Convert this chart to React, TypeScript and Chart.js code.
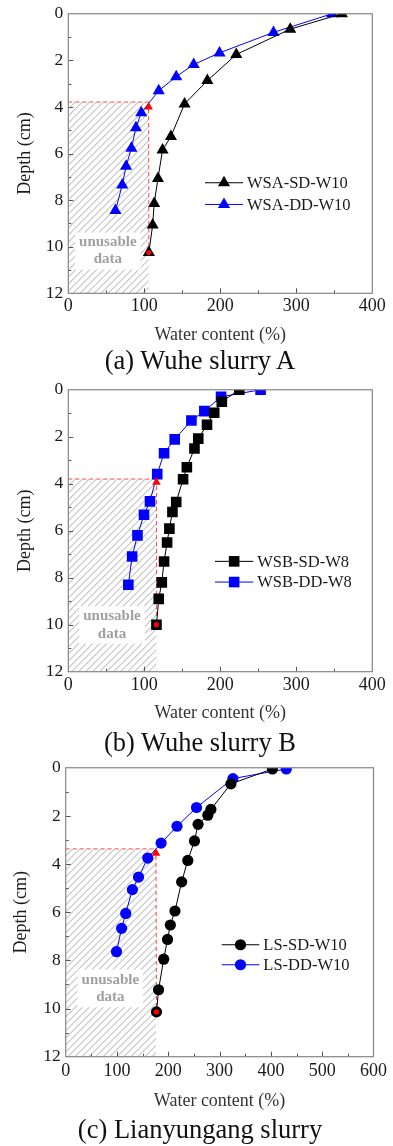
import React, { useEffect, useRef } from "react";
import { Chart, registerables } from "chart.js";

Chart.register(...registerables);

const FONT = "'Liberation Serif', 'Times New Roman', serif";

// ---------- (a) Wuhe slurry A ----------
const A_SD_WATER = [360, 292, 221, 183, 153, 135, 124, 118, 113, 111, 106];
const A_SD_DEPTH = [0, 0.66, 1.75, 2.87, 3.87, 5.27, 5.85, 7.07, 8.15, 9.07, 10.25];
const A_DD_WATER = [347, 270, 199, 165, 142, 119, 96, 89, 83, 76, 71, 62];
const A_DD_DEPTH = [0, 0.8, 1.68, 2.18, 2.7, 3.3, 4.25, 4.89, 5.77, 6.55, 7.35, 8.45];
const A_CUT = [105.7, 3.79]; // water, depth of the usable-data limit
const A_MARK = [105.7, 4.0];
const A_LABELS = ["WSA-SD-W10", "WSA-DD-W10"];
const A_X_TICKS = [0, 100, 200, 300, 400];

// ---------- (b) Wuhe slurry B ----------
const B_SD_WATER = [225, 202, 192, 182.5, 171, 166, 156, 151, 142, 137, 133, 130, 126, 123, 119, 116];
const B_SD_DEPTH = [0, 0.51, 0.98, 1.49, 2.08, 2.5, 3.3, 3.81, 4.78, 5.2, 5.91, 6.5, 7.31, 8.2, 8.9, 10.0];
const B_DD_WATER = [253, 201, 179, 162, 140, 126, 117, 107.5, 99.6, 91, 84, 79];
const B_DD_DEPTH = [0, 0.3, 0.91, 1.31, 2.11, 2.7, 3.59, 4.75, 5.32, 6.2, 7.1, 8.3];
const B_CUT = [116, 3.8];
const B_MARK = [116, 3.94];
const B_LABELS = ["WSB-SD-W8", "WSB-DD-W8"];
const B_X_TICKS = [0, 100, 200, 300, 400];

// ---------- (c) Lianyungang slurry ----------
const C_SD_WATER = [403, 322, 283, 277, 258, 251, 238, 226, 213, 204, 198.5, 191, 181, 177];
const C_SD_DEPTH = [0.05, 0.67, 1.73, 1.97, 2.35, 3.04, 3.85, 4.74, 5.95, 6.53, 7.13, 7.95, 9.22, 10.14];
const C_DD_WATER = [430, 326, 255, 217, 186, 160, 142, 130, 117, 109, 99];
const C_DD_DEPTH = [0.05, 0.45, 1.65, 2.43, 3.13, 3.75, 4.54, 5.06, 6.05, 6.67, 7.64];
const C_CUT = [176, 3.37];
const C_MARK = [176, 3.55];
const C_LABELS = ["LS-SD-W10", "LS-DD-W10"];
const C_X_TICKS = [0, 100, 200, 300, 400, 500, 600];

const DEPTH_TICKS = [0, 2, 4, 6, 8, 10, 12];
const X_TITLE = "Water content (%)";
const Y_TITLE = "Depth (cm)";
const TEXT_LINES = ["unusable", "data"];

type Panel = {
  caption: string;
  sdW: number[]; sdD: number[]; ddW: number[]; ddD: number[];
  cut: number[]; mark: number[]; labels: string[]; xTicks: number[];
  style: "triangle" | "rect" | "circle"; radius: number;
  // layout
  top: number; height: number; padTop: number; padRight: number;
  yAxisW: number; xAxisH: number; xTickPad: number; xTitlePad: number; yTitlePad: number;
  captionY: number;
  textPos: number[]; // water, depth1, depth2
  legend: number[]; // x0, x1, y1, y2 relative to chart area
};

const PANELS: Panel[] = [
  {
    caption: "(a) Wuhe slurry A",
    sdW: A_SD_WATER, sdD: A_SD_DEPTH, ddW: A_DD_WATER, ddD: A_DD_DEPTH,
    cut: A_CUT, mark: A_MARK, labels: A_LABELS, xTicks: A_X_TICKS,
    style: "triangle", radius: 7,
    top: 0, height: 350, padTop: 9.3, padRight: 20.7,
    yAxisW: 68.3, xAxisH: 56.7, xTickPad: 3.7, xTitlePad: 4.2, yTitlePad: 14.2,
    captionY: 360,
    textPos: [52, 9.82, 10.55],
    legend: [136.7, 174.7, 169, 190.7],
  },
  {
    caption: "(b) Wuhe slurry B",
    sdW: B_SD_WATER, sdD: B_SD_DEPTH, ddW: B_DD_WATER, ddD: B_DD_DEPTH,
    cut: B_CUT, mark: B_MARK, labels: B_LABELS, xTicks: B_X_TICKS,
    style: "rect", radius: 7.5,
    top: 376, height: 350, padTop: 10.7, padRight: 20.7,
    yAxisW: 68.3, xAxisH: 54.3, xTickPad: 4.3, xTitlePad: 2.2, yTitlePad: 14.2,
    captionY: 741.7,
    textPos: [57.5, 9.64, 10.38],
    legend: [146.7, 185, 171.6, 192.3],
  },
  {
    caption: "(c) Lianyungang slurry",
    sdW: C_SD_WATER, sdD: C_SD_DEPTH, ddW: C_DD_WATER, ddD: C_DD_DEPTH,
    cut: C_CUT, mark: C_MARK, labels: C_LABELS, xTicks: C_X_TICKS,
    style: "circle", radius: 5.6,
    top: 754, height: 360, padTop: 11.7, padRight: 17,
    yAxisW: 65.7, xAxisH: 57.3, xTickPad: 6, xTitlePad: 1.5, yTitlePad: 10.9,
    captionY: 1129,
    textPos: [87, 8.8, 9.53],
    legend: [156, 193.6, 177, 197],
  },
];

const pts = (xs: number[], ys: number[]) => xs.map((x, i) => ({ x, y: ys[i] }));

function drawMarker(ctx: CanvasRenderingContext2D, style: string, x: number, y: number, r: number, color: string) {
  ctx.fillStyle = color;
  ctx.beginPath();
  if (style === "triangle") {
    let a = 0;
    ctx.moveTo(x + Math.sin(a) * r, y - Math.cos(a) * r);
    a += (2 * Math.PI) / 3;
    ctx.lineTo(x + Math.sin(a) * r, y - Math.cos(a) * r);
    a += (2 * Math.PI) / 3;
    ctx.lineTo(x + Math.sin(a) * r, y - Math.cos(a) * r);
    ctx.closePath();
  } else if (style === "rect") {
    const s = Math.SQRT1_2 * r;
    ctx.rect(x - s, y - s, 2 * s, 2 * s);
  } else {
    ctx.arc(x, y, r, 0, Math.PI * 2);
  }
  ctx.fill();
}

function PanelChart({ p }: { p: Panel }) {
  const ref = useRef<HTMLCanvasElement | null>(null);
  useEffect(() => {
    if (!ref.current) return;
    const xMax = p.xTicks[p.xTicks.length - 1];
    const xStep = p.xTicks[1] - p.xTicks[0];
    const yMax = DEPTH_TICKS[DEPTH_TICKS.length - 1];
    const lastSD = { x: p.sdW[p.sdW.length - 1], y: p.sdD[p.sdD.length - 1] };

    const decor = {
      id: "decor",
      beforeDatasetsDraw(chart: any) {
        const { ctx, scales } = chart;
        const x = scales.x, y = scales.y;
        const xl = x.getPixelForValue(0), xr = x.getPixelForValue(p.cut[0]);
        const yt = y.getPixelForValue(p.cut[1]), yb = y.getPixelForValue(yMax);
        ctx.save();
        ctx.beginPath();
        ctx.rect(xl, yt, xr - xl, yb - yt);
        ctx.clip();
        ctx.strokeStyle = "#a0a0a0";
        ctx.lineWidth = 0.9;
        const h = yb - yt;
        ctx.beginPath();
        for (let s = xl - h; s < xr + 2; s += 7) {
          ctx.moveTo(s, yb);
          ctx.lineTo(s + h, yt);
        }
        ctx.stroke();
        ctx.restore();

        ctx.save();
        ctx.font = `bold 15px ${FONT}`;
        const tx = x.getPixelForValue(p.textPos[0]);
        const ty1 = y.getPixelForValue(p.textPos[1]);
        const ty2 = y.getPixelForValue(p.textPos[2]);
        const w = ctx.measureText(TEXT_LINES[0]).width;
        ctx.fillStyle = "#ffffff";
        ctx.fillRect(tx - w / 2 - 4, ty1 - 10, w + 8, ty2 - ty1 + 20);
        ctx.fillStyle = "#a0a0a0";
        ctx.textAlign = "center";
        ctx.textBaseline = "middle";
        ctx.fillText(TEXT_LINES[0], tx, ty1);
        ctx.fillText(TEXT_LINES[1], tx, ty2);
        ctx.restore();
      },
      afterDraw(chart: any) {
        const { ctx, chartArea: ca, scales } = chart;
        const x = scales.x, y = scales.y;
        ctx.save();
        // inward ticks
        ctx.strokeStyle = "#555";
        ctx.lineWidth = 1;
        ctx.beginPath();
        for (let v = xStep / 2; v < xMax; v += xStep / 2) {
          const px = Math.round(x.getPixelForValue(v)) + 0.5;
          const len = Math.abs(v % xStep) < 1e-6 ? 5 : 3;
          ctx.moveTo(px, ca.bottom);
          ctx.lineTo(px, ca.bottom - len);
        }
        for (let d = 1; d < yMax; d += 1) {
          const py = Math.round(y.getPixelForValue(d)) + 0.5;
          const len = d % 2 === 0 ? 5 : 3;
          ctx.moveTo(ca.left, py);
          ctx.lineTo(ca.left + len, py);
        }
        ctx.stroke();
        // frame
        ctx.strokeStyle = "#858585";
        ctx.lineWidth = 1.2;
        ctx.strokeRect(ca.left, ca.top, ca.right - ca.left, ca.bottom - ca.top);
        // legend
        const [lx0, lx1, ly1, ly2] = p.legend;
        const cols = ["#000000", "#0000ff"];
        [ly1, ly2].forEach((ly, i) => {
          const yy = ca.top + ly;
          ctx.strokeStyle = cols[i];
          ctx.lineWidth = 1;
          ctx.beginPath();
          ctx.moveTo(ca.left + lx0, yy);
          ctx.lineTo(ca.left + lx1, yy);
          ctx.stroke();
          drawMarker(ctx, p.style, ca.left + (lx0 + lx1) / 2, yy, p.radius, cols[i]);
          ctx.fillStyle = "#1a1a1a";
          ctx.font = `16.5px ${FONT}`;
          ctx.textAlign = "left";
          ctx.textBaseline = "middle";
          ctx.fillText(p.labels[i], ca.left + lx1 + 4, yy + 1);
        });
        ctx.restore();
      },
    };

    const chart = new Chart(ref.current, {
      type: "scatter",
      data: {
        datasets: [
          {
            data: [lastSD],
            pointStyle: "circle",
            pointRadius: 2.6,
            pointBackgroundColor: "#ff0000",
            pointBorderWidth: 0,
            showLine: false,
          },
          {
            data: [{ x: p.mark[0], y: p.mark[1] }],
            pointStyle: "triangle",
            pointRadius: 5,
            pointBackgroundColor: "#ff0000",
            pointBorderColor: "#ff0000",
            pointBorderWidth: 0,
            showLine: false,
          },
          {
            label: p.labels[0],
            data: pts(p.sdW, p.sdD),
            showLine: true,
            borderColor: "#000000",
            borderWidth: 1,
            pointStyle: p.style,
            pointRadius: p.radius,
            pointBackgroundColor: "#000000",
            pointBorderColor: "#000000",
            pointBorderWidth: 0,
          },
          {
            label: p.labels[1],
            data: pts(p.ddW, p.ddD),
            showLine: true,
            borderColor: "#0000ff",
            borderWidth: 1,
            pointStyle: p.style,
            pointRadius: p.radius,
            pointBackgroundColor: "#0000ff",
            pointBorderColor: "#0000ff",
            pointBorderWidth: 0,
          },
          {
            data: [{ x: 0, y: p.cut[1] }, { x: p.cut[0], y: p.cut[1] }],
            showLine: true,
            borderColor: "#ff4444",
            borderWidth: 1,
            borderDash: [4, 3],
            pointRadius: 0,
          },
          {
            data: [{ x: p.cut[0], y: p.cut[1] }, lastSD],
            showLine: true,
            borderColor: "#ff4444",
            borderWidth: 1,
            borderDash: [4, 3],
            pointRadius: 0,
          },
        ],
      },
      options: {
        animation: false,
        responsive: false,
        devicePixelRatio: 1,
        events: [],
        layout: { padding: { top: p.padTop, right: p.padRight, left: 0, bottom: 0 } },
        plugins: { legend: { display: false }, tooltip: { enabled: false } },
        scales: {
          x: {
            type: "linear",
            min: 0,
            max: xMax,
            grid: { display: false, drawTicks: false },
            border: { display: false },
            ticks: {
              stepSize: xStep,
              padding: p.xTickPad,
              color: "#1a1a1a",
              font: { family: FONT, size: 18, lineHeight: 1 },
              maxRotation: 0,
            },
            title: {
              display: true,
              text: X_TITLE,
              color: "#333333",
              font: { family: FONT, size: 18, lineHeight: 1.2 },
              padding: { top: 0, bottom: p.xTitlePad },
            },
            afterFit: (s: any) => { s.height = p.xAxisH; },
          },
          y: {
            type: "linear",
            min: 0,
            max: yMax,
            reverse: true,
            grid: { display: false, drawTicks: false },
            border: { display: false },
            ticks: {
              stepSize: 2,
              padding: 5,
              color: "#1a1a1a",
              font: { family: FONT, size: 17.5, lineHeight: 1 },
            },
            title: {
              display: true,
              text: Y_TITLE,
              color: "#1a1a1a",
              font: { family: FONT, size: 18, lineHeight: 1.2 },
              padding: { top: p.yTitlePad, bottom: 0 },
            },
            afterFit: (s: any) => { s.width = p.yAxisW; },
          },
        },
      },
      plugins: [decor],
    } as any);
    return () => chart.destroy();
  }, [p]);

  return (
    <>
      <canvas
        ref={ref}
        width={393}
        height={p.height}
        style={{ position: "absolute", left: 0, top: p.top, width: 393, height: p.height, display: "block" }}
      />
      <div
        style={{
          position: "absolute",
          left: 0,
          width: 400,
          top: p.captionY - 16,
          height: 32,
          lineHeight: "32px",
          textAlign: "center",
          fontFamily: FONT,
          fontSize: 26.5,
          color: "#111",
          whiteSpace: "nowrap",
        }}
      >
        {p.caption}
      </div>
    </>
  );
}

export default function App() {
  return (
    <div
      style={{
        position: "absolute",
        left: 0,
        top: 0,
        width: 393,
        height: 1146,
        background: "#ffffff",
        overflow: "hidden",
      }}
    >
      {PANELS.map((p) => (
        <PanelChart key={p.caption} p={p} />
      ))}
    </div>
  );
}
